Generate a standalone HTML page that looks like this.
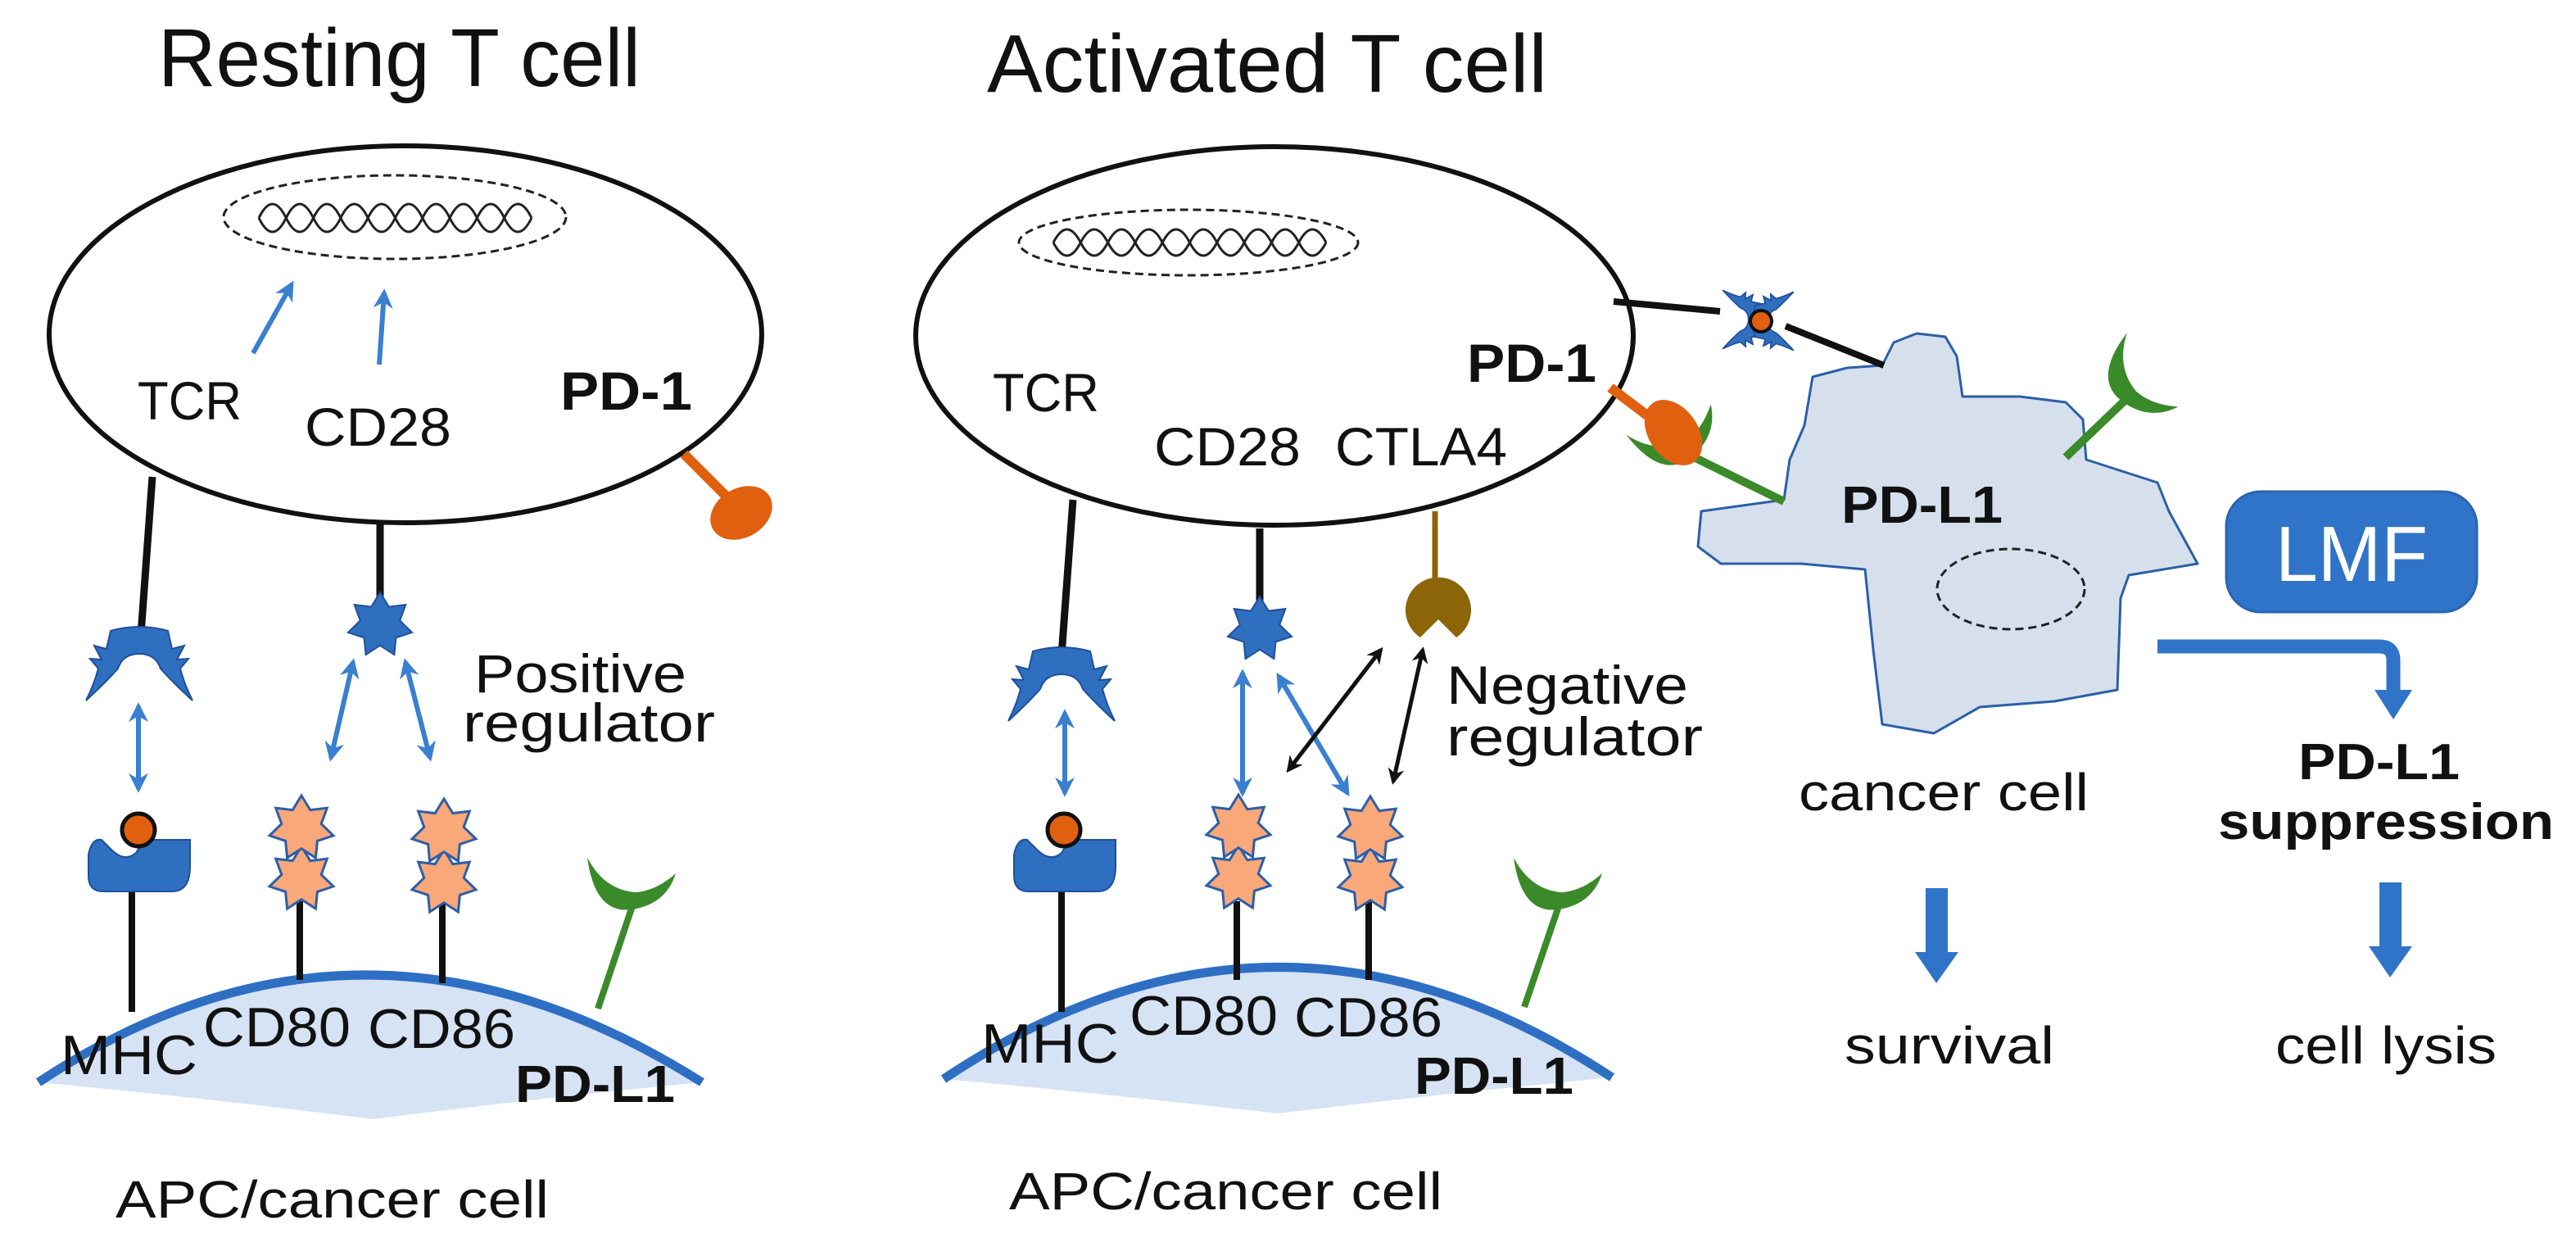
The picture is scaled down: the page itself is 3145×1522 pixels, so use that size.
<!DOCTYPE html>
<html><head><meta charset="utf-8"><style>
html,body{margin:0;padding:0;background:#fff}
svg{display:block}
text{font-family:"Liberation Sans",sans-serif;fill:#111}
</style></head><body>
<svg width="3145" height="1522" viewBox="0 0 3145 1522" xmlns="http://www.w3.org/2000/svg">
<defs>
<marker id="ab" viewBox="0 0 10 10" refX="8" refY="5" markerWidth="4" markerHeight="4" orient="auto-start-reverse"><path d="M0,0 L10,5 L0,10 L3,5 Z" fill="#3a7fd0"/></marker>
<marker id="ak" viewBox="0 0 10 10" refX="8" refY="5" markerWidth="4" markerHeight="4" orient="auto-start-reverse"><path d="M0,0 L10,5 L0,10 L3,5 Z" fill="#111"/></marker>
<polygon id="star" points="0,-40 10.8,-22.4 31.3,-24.9 24.2,-5.5 39,8.9 19.4,15.4 17.4,36 0,24.8 -17.4,36 -19.4,15.4 -39,8.9 -24.2,-5.5 -31.3,-24.9 -10.8,-22.4"/>
<path id="tcr" d="M-35,-40 Q0,-50 35,-40 L40,-18 L55,-22 L46,-5 L60,-6 L50,6 Q55,25 65,45 Q40,22 26,6 Q20,-12 0,-12 Q-20,-12 -26,6 Q-40,22 -65,45 Q-55,25 -50,6 L-60,-6 L-46,-5 L-55,-22 L-40,-18 Z"/>
<path id="mhc" d="M-62,-12 Q-58,-32 -46,-30 L-34,-18 Q-18,-2 -4,-14 L6,-30 L62,-30 L62,2 Q62,33 40,33 L-44,33 Q-62,33 -62,14 Z"/>
<path id="cup" d="M-45,-50 Q-48,22 0,22 Q40,22 58,-12 Q30,5 5,2 Q-32,-8 -45,-50 Z"/>
</defs>

<!-- ===== Resting T cell ===== -->
<text x="193" y="105" font-size="100" textLength="589" lengthAdjust="spacingAndGlyphs">Resting T cell</text>
<ellipse cx="495" cy="408" rx="435" ry="230" fill="#fff" stroke="#111" stroke-width="6"/>
<ellipse cx="482" cy="265" rx="209" ry="51" fill="none" stroke="#222" stroke-width="3" stroke-dasharray="10,6"/>
<path d="M316,266 q16.65,-34 33.3,0 t33.3,0 t33.3,0 t33.3,0 t33.3,0 t33.3,0 t33.3,0 t33.3,0 t33.3,0 t33.3,0" fill="none" stroke="#222" stroke-width="3"/>
<path d="M316,266 q16.65,34 33.3,0 t33.3,0 t33.3,0 t33.3,0 t33.3,0 t33.3,0 t33.3,0 t33.3,0 t33.3,0 t33.3,0" fill="none" stroke="#222" stroke-width="3"/>
<line x1="309" y1="431" x2="356" y2="347" stroke="#3a7fd0" stroke-width="6" marker-end="url(#ab)"/>
<line x1="463" y1="445" x2="469" y2="357" stroke="#3a7fd0" stroke-width="6" marker-end="url(#ab)"/>
<text x="168" y="512" font-size="66" textLength="127" lengthAdjust="spacingAndGlyphs">TCR</text>
<text x="372" y="544" font-size="66" textLength="179" lengthAdjust="spacingAndGlyphs">CD28</text>
<text x="684" y="500" font-size="66" font-weight="bold" textLength="161" lengthAdjust="spacingAndGlyphs">PD-1</text>
<line x1="835" y1="554" x2="891" y2="610" stroke="#e06010" stroke-width="12"/>
<ellipse cx="905" cy="626" rx="40" ry="30" transform="rotate(-30 905 626)" fill="#e06010"/>

<line x1="186" y1="582" x2="172" y2="775" stroke="#111" stroke-width="9"/>
<use href="#tcr" x="170" y="810" fill="#2f6fc0" stroke="#1f4f9a" stroke-width="2"/>
<line x1="169" y1="862" x2="169" y2="963" stroke="#3a7fd0" stroke-width="6" marker-start="url(#ab)" marker-end="url(#ab)"/>
<line x1="464" y1="636" x2="464" y2="730" stroke="#111" stroke-width="9"/>
<use href="#star" x="464" y="763" fill="#2f6fc0" stroke="#1f4f9a" stroke-width="2"/>
<line x1="431" y1="808" x2="404" y2="925" stroke="#3a7fd0" stroke-width="6" marker-start="url(#ab)" marker-end="url(#ab)"/>
<line x1="495" y1="808" x2="525" y2="925" stroke="#3a7fd0" stroke-width="6" marker-start="url(#ab)" marker-end="url(#ab)"/>
<text x="579" y="845" font-size="66" textLength="259" lengthAdjust="spacingAndGlyphs">Positive</text>
<text x="565" y="905" font-size="66" textLength="308" lengthAdjust="spacingAndGlyphs">regulator</text>

<!-- APC resting -->
<path d="M47,1321 Q442,1059 857,1321 Q660,1340 455,1366 Q250,1340 47,1321 Z" fill="#d6e3f4"/>
<path d="M47,1321 Q442,1059 857,1321" fill="none" stroke="#2e6fc4" stroke-width="11"/>
<line x1="161" y1="1083" x2="161" y2="1235" stroke="#111" stroke-width="8"/>
<use href="#mhc" x="170" y="1055" fill="#2f6fc0" stroke="#1f4f9a" stroke-width="2"/>
<circle cx="169" cy="1013" r="20" fill="#e06010" stroke="#111" stroke-width="5"/>
<line x1="366" y1="1100" x2="366" y2="1196" stroke="#111" stroke-width="8"/>
<line x1="540" y1="1100" x2="540" y2="1200" stroke="#111" stroke-width="8"/>
<g fill="#f9a87a" stroke="#2d5ea8" stroke-width="3">
<use href="#star" x="368" y="1073"/>
<use href="#star" x="368" y="1011"/>
<use href="#star" x="542" y="1077"/>
<use href="#star" x="542" y="1015"/>
</g>
<line x1="730" y1="1231" x2="772" y2="1106" stroke="#3a8a2a" stroke-width="8"/>
<use href="#cup" transform="translate(770 1088) rotate(-10)" fill="#3a8a2a"/>
<text x="74" y="1311" font-size="68" textLength="167" lengthAdjust="spacingAndGlyphs">MHC</text>
<text x="248" y="1277" font-size="68" textLength="180" lengthAdjust="spacingAndGlyphs">CD80</text>
<text x="449" y="1279" font-size="68" textLength="180" lengthAdjust="spacingAndGlyphs">CD86</text>
<text x="629" y="1345" font-size="64" font-weight="bold" textLength="195" lengthAdjust="spacingAndGlyphs">PD-L1</text>
<text x="141" y="1486" font-size="64" textLength="529" lengthAdjust="spacingAndGlyphs">APC/cancer cell</text>

<!-- ===== Activated T cell ===== -->
<text x="1205" y="112" font-size="100" textLength="684" lengthAdjust="spacingAndGlyphs">Activated T cell</text>
<ellipse cx="1556" cy="410" rx="438" ry="231" fill="#fff" stroke="#111" stroke-width="6"/>
<ellipse cx="1451" cy="296" rx="207" ry="40" fill="none" stroke="#222" stroke-width="3" stroke-dasharray="10,6"/>
<path d="M1286,296 q16.65,-32 33.3,0 t33.3,0 t33.3,0 t33.3,0 t33.3,0 t33.3,0 t33.3,0 t33.3,0 t33.3,0 t33.3,0" fill="none" stroke="#222" stroke-width="3"/>
<path d="M1286,296 q16.65,32 33.3,0 t33.3,0 t33.3,0 t33.3,0 t33.3,0 t33.3,0 t33.3,0 t33.3,0 t33.3,0 t33.3,0" fill="none" stroke="#222" stroke-width="3"/>
<text x="1212" y="502" font-size="66" textLength="130" lengthAdjust="spacingAndGlyphs">TCR</text>
<text x="1409" y="568" font-size="66" textLength="179" lengthAdjust="spacingAndGlyphs">CD28</text>
<text x="1630" y="568" font-size="66" textLength="210" lengthAdjust="spacingAndGlyphs">CTLA4</text>
<text x="1791" y="466" font-size="66" font-weight="bold" textLength="158" lengthAdjust="spacingAndGlyphs">PD-1</text>

<line x1="1310" y1="610" x2="1296" y2="800" stroke="#111" stroke-width="9"/>
<use href="#tcr" x="1296" y="835" fill="#2f6fc0" stroke="#1f4f9a" stroke-width="2"/>
<line x1="1300" y1="870" x2="1300" y2="968" stroke="#3a7fd0" stroke-width="6" marker-start="url(#ab)" marker-end="url(#ab)"/>
<line x1="1538" y1="645" x2="1538" y2="735" stroke="#111" stroke-width="9"/>
<use href="#star" x="1538" y="768" fill="#2f6fc0" stroke="#1f4f9a" stroke-width="2"/>
<line x1="1752" y1="624" x2="1752" y2="710" stroke="#8b6508" stroke-width="7"/>
<path d="M1756,756 L1734,778 A40,40 0 1 1 1778,778 Z" fill="#8b6508"/>
<line x1="1517" y1="821" x2="1517" y2="968" stroke="#3a7fd0" stroke-width="6" marker-start="url(#ab)" marker-end="url(#ab)"/>
<line x1="1561" y1="825" x2="1645" y2="968" stroke="#3a7fd0" stroke-width="6" marker-start="url(#ab)" marker-end="url(#ab)"/>
<line x1="1686" y1="793" x2="1573" y2="940" stroke="#111" stroke-width="5" marker-start="url(#ak)" marker-end="url(#ak)"/>
<line x1="1737" y1="793" x2="1701" y2="954" stroke="#111" stroke-width="5" marker-start="url(#ak)" marker-end="url(#ak)"/>
<text x="1766" y="859" font-size="66" textLength="295" lengthAdjust="spacingAndGlyphs">Negative</text>
<text x="1766" y="922" font-size="66" textLength="313" lengthAdjust="spacingAndGlyphs">regulator</text>

<path d="M1152,1317 Q1560,1045 1968,1315 Q1760,1335 1560,1359 Q1350,1335 1152,1317 Z" fill="#d6e3f4"/>
<path d="M1152,1317 Q1560,1045 1968,1315" fill="none" stroke="#2e6fc4" stroke-width="11"/>
<line x1="1296" y1="1083" x2="1296" y2="1235" stroke="#111" stroke-width="8"/>
<use href="#mhc" x="1300" y="1055" fill="#2f6fc0" stroke="#1f4f9a" stroke-width="2"/>
<circle cx="1299" cy="1013" r="20" fill="#e06010" stroke="#111" stroke-width="5"/>
<line x1="1510" y1="1100" x2="1510" y2="1196" stroke="#111" stroke-width="8"/>
<line x1="1671" y1="1100" x2="1671" y2="1196" stroke="#111" stroke-width="8"/>
<g fill="#f9a87a" stroke="#2d5ea8" stroke-width="3">
<use href="#star" x="1512" y="1072"/>
<use href="#star" x="1512" y="1010"/>
<use href="#star" x="1673" y="1074"/>
<use href="#star" x="1673" y="1012"/>
</g>
<line x1="1861" y1="1229" x2="1903" y2="1106" stroke="#3a8a2a" stroke-width="8"/>
<use href="#cup" transform="translate(1901 1088) rotate(-10)" fill="#3a8a2a"/>
<text x="1198" y="1297" font-size="68" textLength="168" lengthAdjust="spacingAndGlyphs">MHC</text>
<text x="1379" y="1263" font-size="68" textLength="181" lengthAdjust="spacingAndGlyphs">CD80</text>
<text x="1580" y="1265" font-size="68" textLength="181" lengthAdjust="spacingAndGlyphs">CD86</text>
<text x="1727" y="1335" font-size="64" font-weight="bold" textLength="194" lengthAdjust="spacingAndGlyphs">PD-L1</text>
<text x="1232" y="1476" font-size="64" textLength="529" lengthAdjust="spacingAndGlyphs">APC/cancer cell</text>

<!-- ===== PD-1 / PD-L1 to cancer cell ===== -->
<polygon points="2298,446 2312,418 2340,407 2375,411 2389,435 2396,484 2466,484 2522,491 2543,512 2547,561 2634,589 2648,624 2683,688 2599,702 2589,730 2585,842 2508,856 2417,863 2361,895 2298,884 2287,793 2277,695 2199,688 2101,688 2073,667 2077,624 2178,610 2185,561 2203,519 2213,460 2255,449" fill="#d6e0ec" stroke="#2a5fa8" stroke-width="3" stroke-linejoin="round"/>
<ellipse cx="2455" cy="719" rx="90" ry="49" fill="none" stroke="#222" stroke-width="3" stroke-dasharray="10,6"/>
<text x="2248" y="638" font-size="64" font-weight="bold" textLength="197" lengthAdjust="spacingAndGlyphs">PD-L1</text>

<line x1="1970" y1="368" x2="2100" y2="380" stroke="#111" stroke-width="8"/>
<line x1="2180" y1="398" x2="2300" y2="446" stroke="#111" stroke-width="8"/>
<use href="#tcr" transform="translate(2128 390) rotate(90) scale(0.55)" fill="#2f6fc0" stroke="#1f4f9a" stroke-width="3"/>
<use href="#tcr" transform="translate(2165 392) rotate(-90) scale(0.55)" fill="#2f6fc0" stroke="#1f4f9a" stroke-width="3"/>
<circle cx="2150" cy="392" r="13" fill="#e06010" stroke="#111" stroke-width="4"/>

<line x1="1966" y1="473" x2="2015" y2="510" stroke="#e06010" stroke-width="12"/>
<line x1="2066" y1="557" x2="2178" y2="612" stroke="#3a8a2a" stroke-width="10"/>
<use href="#cup" transform="translate(2052 540) rotate(-40)" fill="#3a8a2a"/>
<ellipse cx="2043" cy="528" rx="30" ry="44" transform="rotate(-35 2043 528)" fill="#e06010"/>

<line x1="2522" y1="558" x2="2594" y2="489" stroke="#3a8a2a" stroke-width="10"/>
<use href="#cup" transform="translate(2605 473) rotate(35)" fill="#3a8a2a"/>

<rect x="2718" y="600" width="306" height="147" rx="42" fill="#2f74c8" stroke="#2a64b0" stroke-width="3"/>
<text x="2778" y="709" font-size="96" style="fill:#fff" textLength="186" lengthAdjust="spacingAndGlyphs">LMF</text>

<path d="M2634,789 L2905,789 Q2922,789 2922,806 L2922,845" fill="none" stroke="#2f74c8" stroke-width="17"/>
<polygon points="2899,842 2945,842 2922,878" fill="#2f74c8"/>

<text x="2196" y="989" font-size="64" textLength="354" lengthAdjust="spacingAndGlyphs">cancer cell</text>
<text x="2806" y="951" font-size="62" font-weight="bold" textLength="197" lengthAdjust="spacingAndGlyphs">PD-L1</text>
<text x="2708" y="1024" font-size="62" font-weight="bold" textLength="410" lengthAdjust="spacingAndGlyphs">suppression</text>

<rect x="2351" y="1084" width="27" height="80" fill="#2f74c8"/>
<polygon points="2338,1162 2391,1162 2364,1200" fill="#2f74c8"/>
<rect x="2905" y="1077" width="27" height="80" fill="#2f74c8"/>
<polygon points="2892,1155 2945,1155 2918,1193" fill="#2f74c8"/>

<text x="2252" y="1298" font-size="64" textLength="256" lengthAdjust="spacingAndGlyphs">survival</text>
<text x="2778" y="1298" font-size="64" textLength="270" lengthAdjust="spacingAndGlyphs">cell lysis</text>
</svg>
</body></html>
